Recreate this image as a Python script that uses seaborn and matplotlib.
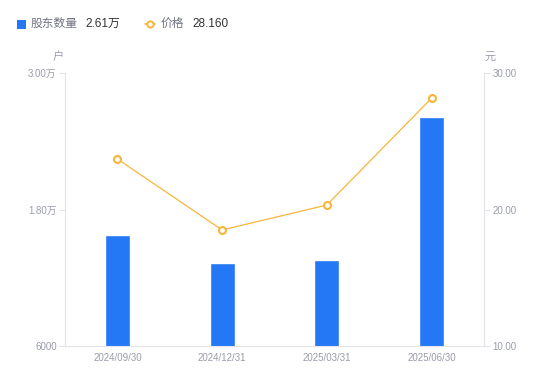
import matplotlib
matplotlib.use("Agg")
import matplotlib.pyplot as plt
import seaborn as sns
import pandas as pd
from matplotlib.lines import Line2D
from matplotlib.patches import Rectangle

dates = ["2024/09/30", "2024/12/31", "2025/03/31", "2025/06/30"]
holders = [15800, 13300, 13600, 26100]
prices = [23.70, 18.50, 20.33, 28.16]
left_ticks = [6000, 18000, 30000]
left_labels = ["6000", "1.80万", "3.00万"]
right_ticks = [10, 20, 30]
right_labels = ["10.00", "20.00", "30.00"]

sns.set_theme(style="white")
plt.rcParams['font.family'] = ['Liberation Sans', 'Noto Sans CJK SC', 'DejaVu Sans']

BLUE = "#2477f5"
ORANGE = "#f8b53c"
GRID = "#e3e4ea"
TICK = "#9a9cab"
DARK = "#333333"
GRAYTXT = "#707380"

fig = plt.figure(figsize=(5.5, 3.81), dpi=100)
ax = fig.add_axes([65/550, 35/381, 419/550, 273/381])
df = pd.DataFrame({"date": dates, "holders": holders, "price": prices})

sns.barplot(data=df, x="date", y="holders", color=BLUE, width=0.24, ax=ax,
            saturation=1)
ax.set_ylim(6000, 30000)
ax.set_xlim(-0.5, 3.5)
ax.set_yticks(left_ticks)
ax.set_yticklabels(left_labels)
ax.set_xlabel("")
ax.set_ylabel("")

ax2 = ax.twinx()
sns.lineplot(data=df, x="date", y="price", color=ORANGE, lw=0.9, ax=ax2,
             marker="o", markersize=5, markerfacecolor="white",
             markeredgecolor=ORANGE, markeredgewidth=1.5, sort=False)
ax2.set_ylim(10, 30)
ax2.set_xlim(-0.5, 3.5)
ax2.set_yticks(right_ticks)
ax2.set_yticklabels(right_labels)
ax2.set_ylabel("")
ax2.set_xlabel("")

for a in (ax, ax2):
    for s in a.spines.values():
        s.set_visible(False)
    a.grid(False)
    a.tick_params(axis="y", colors=TICK, labelsize=7, length=4, width=0.8,
                  color=GRID, pad=2)
    a.tick_params(axis="x", colors=TICK, labelsize=7, length=0, pad=5)
    for lab in a.get_yticklabels():
        lab.set_color(TICK)
    for lab in a.get_xticklabels():
        lab.set_color(TICK)
ax.spines["left"].set_visible(True)
ax.spines["left"].set_color(GRID)
ax.spines["bottom"].set_visible(True)
ax.spines["bottom"].set_color(GRID)
ax2.spines["right"].set_visible(True)
ax2.spines["right"].set_color(GRID)
for s in (ax.spines["left"], ax.spines["bottom"], ax2.spines["right"]):
    s.set_linewidth(0.8)

fig.text(58/550, 1-57/381, "户", color=TICK, fontsize=8, ha="center", va="center")
fig.text(490/550, 1-57/381, "元", color=TICK, fontsize=8, ha="center", va="center")

# legend
fig.patches.append(Rectangle((17/550, 1-29/381), 9/550, 9/381, transform=fig.transFigure,
                             facecolor=BLUE, edgecolor="none"))
fig.text(31/550, 1-24/381, "股东数量", color=GRAYTXT, fontsize=8.5, va="center")
fig.text(85/550, 1-24/381, "2.61万", color=DARK, fontsize=8.5, va="center")
fig.lines.append(Line2D([145/550, 155/550], [1-24/381, 1-24/381], transform=fig.transFigure,
                        color=ORANGE, lw=1.2))
fig.lines.append(Line2D([150/550], [1-24/381], transform=fig.transFigure,
                        color=ORANGE, marker="o", markersize=4.5, markerfacecolor="white",
                        markeredgecolor=ORANGE, markeredgewidth=1.4, lw=0))
fig.text(161/550, 1-24/381, "价格", color=GRAYTXT, fontsize=8.5, va="center")
fig.text(192/550, 1-24/381, "28.160", color=DARK, fontsize=8.5, va="center")

fig.savefig("out.png", dpi=100)
